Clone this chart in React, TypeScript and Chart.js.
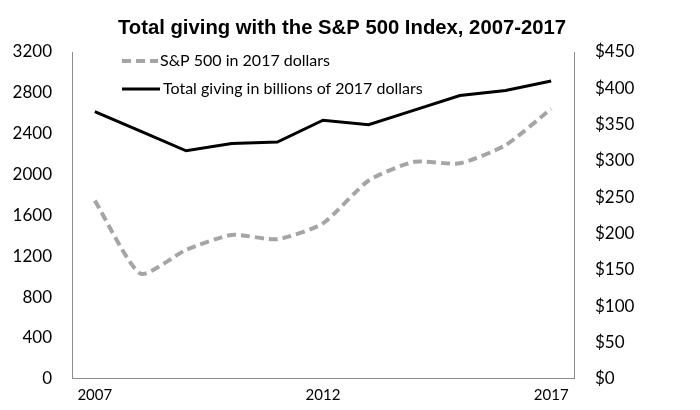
import React, { useEffect, useRef } from "react";
import { Chart, registerables } from "chart.js";

Chart.register(...registerables);

const years = ["2007", "2008", "2009", "2010", "2011", "2012", "2013", "2014", "2015", "2016", "2017"];
const sp500 = [1745, 1030, 1263, 1409, 1367, 1522, 1942, 2125, 2110, 2288, 2644];
const giving = [368, 341, 314, 324, 326, 356, 350, 370, 390, 397, 410];
const shownYears = ["2007", "2012", "2017"];
const leftMax = 3200;
const leftStep = 400;
const rightMax = 450;
const rightStep = 50;

const titleText = "Total giving with the S&P 500 Index, 2007-2017";
const legendSp = "S&P 500 in 2017 dollars";
const legendGiving = "Total giving in billions of 2017 dollars";

const FONT = '"Lato", "Open Sans", sans-serif';

const overlayPlugin = {
  id: "overlay",
  afterDraw(chart: any) {
    const ctx = chart.ctx;
    ctx.save();
    ctx.fillStyle = "#000";
    ctx.font = 'bold 20.3px "Liberation Sans", Arial, sans-serif';
    ctx.textAlign = "center";
    ctx.textBaseline = "middle";
    ctx.fillText(titleText, 342, 28);

    const left = chart.chartArea.left;
    ctx.strokeStyle = "#a5a5a5";
    ctx.lineWidth = 4;
    ctx.setLineDash([9, 5]);
    ctx.beginPath();
    ctx.moveTo(left + 50, 61);
    ctx.lineTo(left + 86, 61);
    ctx.stroke();
    ctx.setLineDash([]);
    ctx.strokeStyle = "#000";
    ctx.lineWidth = 3;
    ctx.beginPath();
    ctx.moveTo(left + 50, 89);
    ctx.lineTo(left + 88, 89);
    ctx.stroke();
    ctx.font = "16px " + FONT;
    ctx.textAlign = "left";
    ctx.fillStyle = "#000";
    ctx.fillText(legendSp, left + 88, 61);
    ctx.fillText(legendGiving, left + 91, 89);
    ctx.restore();
  },
};

export default function App() {
  const ref = useRef<HTMLCanvasElement | null>(null);
  useEffect(() => {
    if (!ref.current) return;
    const tickFont = { family: FONT, size: 17 };
    const chart = new Chart(ref.current, {
      type: "line",
      data: {
        labels: years,
        datasets: [
          {
            label: legendSp,
            data: sp500,
            yAxisID: "y",
            borderColor: "#a5a5a5",
            borderWidth: 4,
            borderDash: [9, 5],
            pointRadius: 0,
            tension: 0.2,
            fill: false,
          },
          {
            label: legendGiving,
            data: giving,
            yAxisID: "y1",
            borderColor: "#000000",
            borderWidth: 3,
            pointRadius: 0,
            tension: 0,
            fill: false,
          },
        ],
      },
      options: {
        animation: false,
        responsive: true,
        maintainAspectRatio: false,
        layout: { padding: { top: 52, left: 0, right: 0, bottom: 0 } },
        plugins: {
          legend: { display: false },
          title: { display: false },
          tooltip: { enabled: false },
        },
        scales: {
          x: {
            type: "category",
            offset: true,
            grid: { display: false, drawTicks: false },
            border: { display: true, color: "#8c8c8c", width: 1 },
            ticks: {
              autoSkip: false,
              maxRotation: 0,
              padding: 7,
              color: "#000",
              font: { family: FONT, size: 15 },
              callback: (_v: any, i: number) => (shownYears.includes(years[i]) ? years[i] : ""),
            },
            afterFit: (s: any) => {
              s.height = 28;
            },
          },
          y: {
            position: "left",
            min: 0,
            max: leftMax,
            grid: { display: false, drawTicks: false },
            border: { display: true, color: "#8c8c8c", width: 1 },
            ticks: {
              stepSize: leftStep,
              padding: 20,
              color: "#000",
              font: tickFont,
              callback: (v: any) => String(v),
            },
            afterFit: (s: any) => {
              s.width = 72;
            },
          },
          y1: {
            position: "right",
            min: 0,
            max: rightMax,
            grid: { display: false, drawTicks: false },
            border: { display: true, color: "#8c8c8c", width: 1 },
            ticks: {
              stepSize: rightStep,
              padding: 21,
              color: "#000",
              font: tickFont,
              callback: (v: any) => "$" + v,
            },
            afterFit: (s: any) => {
              s.width = 126;
            },
          },
        },
      },
      plugins: [overlayPlugin],
    });
    return () => chart.destroy();
  }, []);
  return (
    <div style={{ position: "fixed", left: 0, top: 0, width: 700, height: 410, background: "#fff" }}>
      <canvas ref={ref} />
    </div>
  );
}
